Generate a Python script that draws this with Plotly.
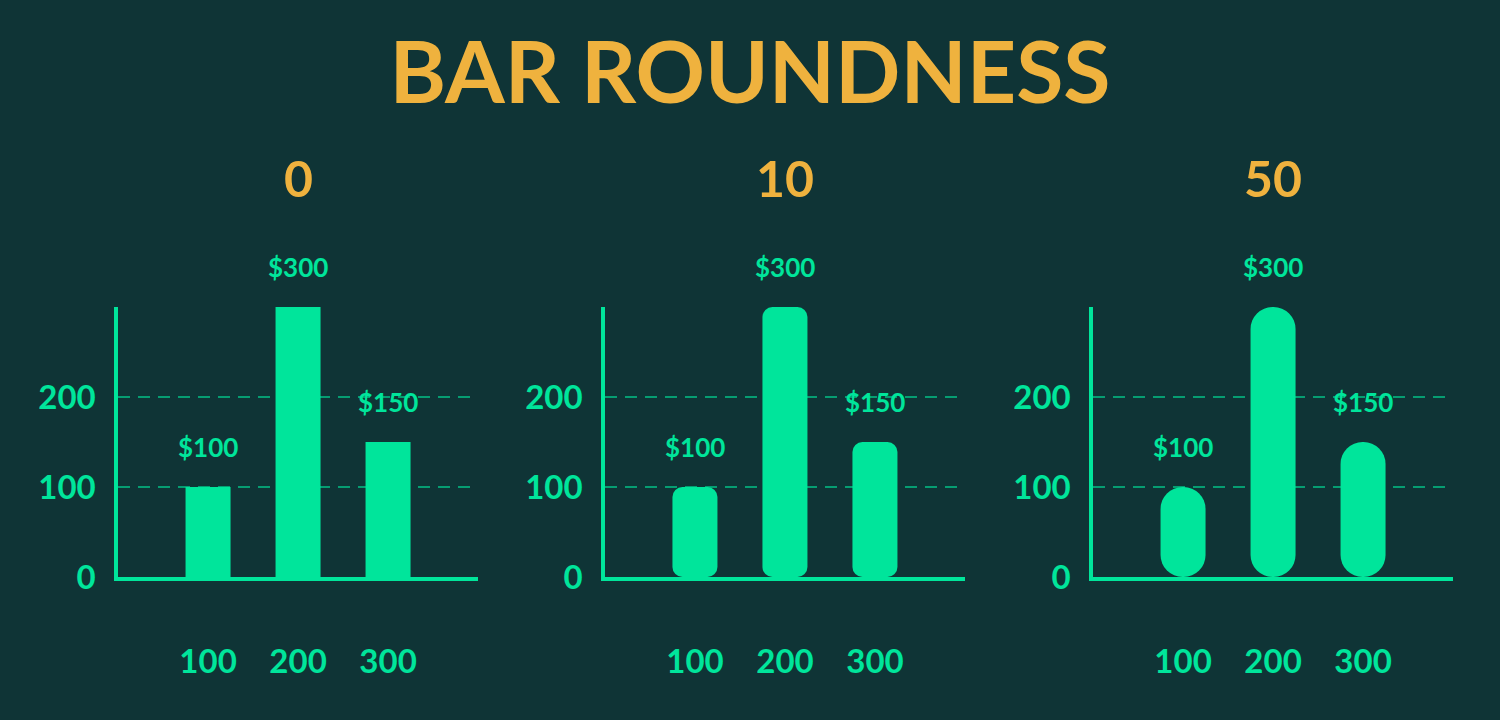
import plotly.graph_objects as go

# chart data
prices = [100, 200, 300]
values = [100, 300, 150]
value_labels = ["$100", "$300", "$150"]
radii = [0, 10, "50%"]
panel_titles = ["0", "10", "50"]
y_ticks = [0, 100, 200]

BG = "#0f3436"
GREEN = "#00e59b"
ORANGE = "#efb23e"
FONT = "Lato"

domains = [[0.0787, 0.3187], [0.4033, 0.6433], [0.7287, 0.9687]]

fig = go.Figure()

annotations = []
for i, radius in enumerate(radii):
    n = "" if i == 0 else str(i + 1)
    xa, ya = "x" + n, "y" + n

    # an explicit base makes plotly round both ends of the bar
    fig.add_trace(go.Bar(
        x=prices, y=values, base=[0] * len(values),
        width=50, marker=dict(color=GREEN, cornerradius=radius, line_width=0),
        xaxis=xa, yaxis=ya, cliponaxis=False, hoverinfo="skip", showlegend=False))

    for p, v, lab in zip(prices, values, value_labels):
        annotations.append(dict(x=p, y=v, xref=xa, yref=ya, text=lab, showarrow=False,
                                xanchor="center", yanchor="middle", yshift=40,
                                font=dict(family=FONT, size=26, color=GREEN, weight=700)))

    annotations.append(dict(x=sum(domains[i]) / 2, y=1 - 178 / 720, xref="paper", yref="paper",
                            text=panel_titles[i], showarrow=False, xanchor="center", yanchor="middle",
                            font=dict(family=FONT, size=50, color=ORANGE, weight=700)))

    axis_font = dict(family=FONT, size=33, color=GREEN, weight=700)
    fig.update_layout(**{
        "xaxis" + n: dict(domain=domains[i], range=[0, 400], anchor=ya,
                          tickvals=prices, ticktext=[str(p) for p in prices],
                          showgrid=False, zeroline=False, showline=True,
                          linecolor=GREEN, linewidth=3.5, ticks="", automargin=False,
                          ticklabelstandoff=53, tickfont=axis_font, fixedrange=True),
        "yaxis" + n: dict(domain=[1 - 577 / 720, 1 - 307 / 720], range=[0, 300], anchor=xa,
                          tickvals=y_ticks, showgrid=True, gridcolor="rgba(0,229,155,0.6)",
                          gridwidth=1.5, griddash="12px,8px", zeroline=False,
                          showline=True, linecolor=GREEN, linewidth=3.5, ticks="",
                          automargin=False, ticklabelstandoff=12, tickfont=axis_font,
                          fixedrange=True),
    })

fig.update_layout(
    width=1500, height=720,
    barmode="overlay",
    paper_bgcolor=BG, plot_bgcolor=BG,
    margin=dict(l=0, r=0, t=0, b=0, autoexpand=False),
    title=dict(text="BAR ROUNDNESS", x=0.5, xanchor="center", y=1 - 73 / 720,
               yanchor="middle", font=dict(family=FONT, size=86, color=ORANGE, weight=700)),
    annotations=annotations,
)

fig.write_html("out.html", config={"displayModeBar": False},
               post_script="document.body.style.margin='0px';document.body.style.overflow='hidden';")
